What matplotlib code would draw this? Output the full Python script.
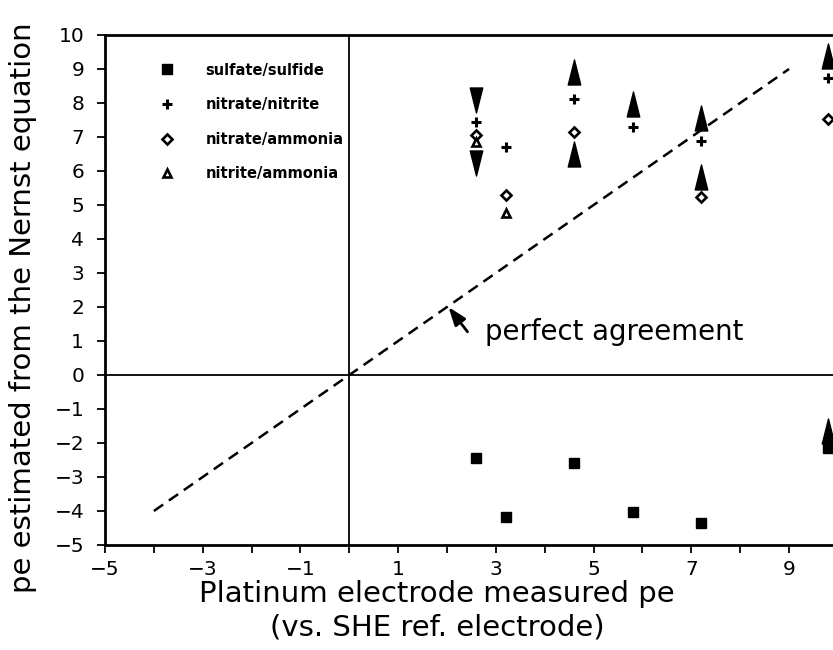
import matplotlib
matplotlib.use('Agg')
import matplotlib.pyplot as plt
from matplotlib.path import Path
import numpy as np

plt.rcParams['font.family'] = ['DejaVu Sans']
plt.rcParams['axes.unicode_minus'] = True

# data
sulfate_x = [2.6, 3.2, 4.6, 5.8, 7.2, 9.8]
sulfate_y = [-2.43, -4.19, -2.58, -4.02, -4.36, -2.16]

nitrate_nitrite_x = [2.6, 3.2, 4.6, 5.8, 7.2, 9.8]
nitrate_nitrite_y = [7.45, 6.72, 8.13, 7.28, 6.89, 8.75]

nitrate_ammonia_x = [2.6, 3.2, 4.6, 7.2, 9.8]
nitrate_ammonia_y = [7.07, 5.28, 7.16, 5.25, 7.52]

nitrite_ammonia_x = [2.6, 3.2]
nitrite_ammonia_y = [6.85, 4.76]

# large filled arrows (limits)
up_x = [4.6, 4.6, 5.8, 7.2, 7.2, 9.8, 9.8]
up_y = [8.9, 6.5, 7.97, 7.55, 5.82, 9.38, -1.65]
down_x = [2.6, 2.6]
down_y = [8.1, 6.25]

agree_line = [-4, 9]

xticks_major = [-5, -3, -1, 1, 3, 5, 7, 9]
xticks_minor = list(range(-5, 10))
yticks = list(range(-5, 11))

# tall narrow triangles
up_marker = Path([(-0.5, -1), (0.5, -1), (0, 1), (-0.5, -1)],
                 [Path.MOVETO, Path.LINETO, Path.LINETO, Path.CLOSEPOLY])
down_marker = Path([(-0.5, 1), (0.5, 1), (0, -1), (-0.5, 1)],
                   [Path.MOVETO, Path.LINETO, Path.LINETO, Path.CLOSEPOLY])

fig = plt.figure(figsize=(8.33, 6.5), dpi=100)
ax = fig.add_axes([105/833, 105/650, 728/833, 510/650])

ax.axhline(0, color='black', lw=1.3, zorder=1)
ax.axvline(0, color='black', lw=1.3, zorder=1)
ax.plot(agree_line, agree_line, color='black', lw=1.8, linestyle=(0, (4.5, 2.8)), zorder=1)

ax.plot(sulfate_x, sulfate_y, 's', color='black', ms=7.5, ls='none', label='sulfate/sulfide', clip_on=False)
ax.plot(nitrate_nitrite_x, nitrate_nitrite_y, '+', color='black', ms=7, mew=2.2, ls='none',
        label='nitrate/nitrite', clip_on=False)
ax.plot(nitrate_ammonia_x, nitrate_ammonia_y, 'D', color='black', mfc='white', ms=5, mew=1.9,
        ls='none', label='nitrate/ammonia', clip_on=False)
ax.plot(nitrite_ammonia_x, nitrite_ammonia_y, '^', color='black', mfc='white', ms=6, mew=1.9,
        ls='none', label='nitrite/ammonia', clip_on=False)

ax.plot(up_x, up_y, marker=up_marker, color='black', ms=18, ls='none', clip_on=False)
ax.plot(down_x, down_y, marker=down_marker, color='black', ms=18, ls='none', clip_on=False)

ax.annotate('', xy=(2.03, 2.0), xytext=(2.42, 1.27),
            arrowprops=dict(arrowstyle='-|>,head_length=0.55,head_width=0.2',
                            mutation_scale=20, lw=2, color='black', shrinkA=0, shrinkB=0))
ax.text(2.78, 1.03, 'perfect agreement', fontsize=19.8, va='baseline', ha='left')

ax.set_xlim(-5, 9.9)
ax.set_ylim(-5, 10)
ax.set_xticks(xticks_major)
ax.set_xticks(xticks_minor, minor=True)
ax.set_yticks(yticks)
ax.tick_params(axis='both', which='both', direction='out', length=6, width=1.3,
               labelsize=14.5, color='black')
ax.tick_params(axis='x', pad=5)
ax.tick_params(axis='y', pad=9)

for side in ['left', 'bottom', 'top']:
    ax.spines[side].set_linewidth(2)
ax.spines['right'].set_visible(False)

ax.set_xlabel('Platinum electrode measured pe\n(vs. SHE ref. electrode)', fontsize=21,
              linespacing=1.25)
ax.xaxis.set_label_coords(0.456, -0.068, transform=ax.transAxes)
ax.xaxis.label.set_va('top')
ax.set_ylabel('pe estimated from the Nernst equation', fontsize=21)
ax.yaxis.set_label_coords(-0.112, 0.466, transform=ax.transAxes)
ax.yaxis.label.set_va('center')

leg = ax.legend(loc='upper left', bbox_to_anchor=(0.0707, 0.946), frameon=False,
                numpoints=1, handlelength=1.5, handletextpad=1.85, labelspacing=1.34,
                borderpad=0, borderaxespad=0,
                prop={'weight': 'bold', 'size': 10.5})

fig.savefig('out.png', dpi=100)
